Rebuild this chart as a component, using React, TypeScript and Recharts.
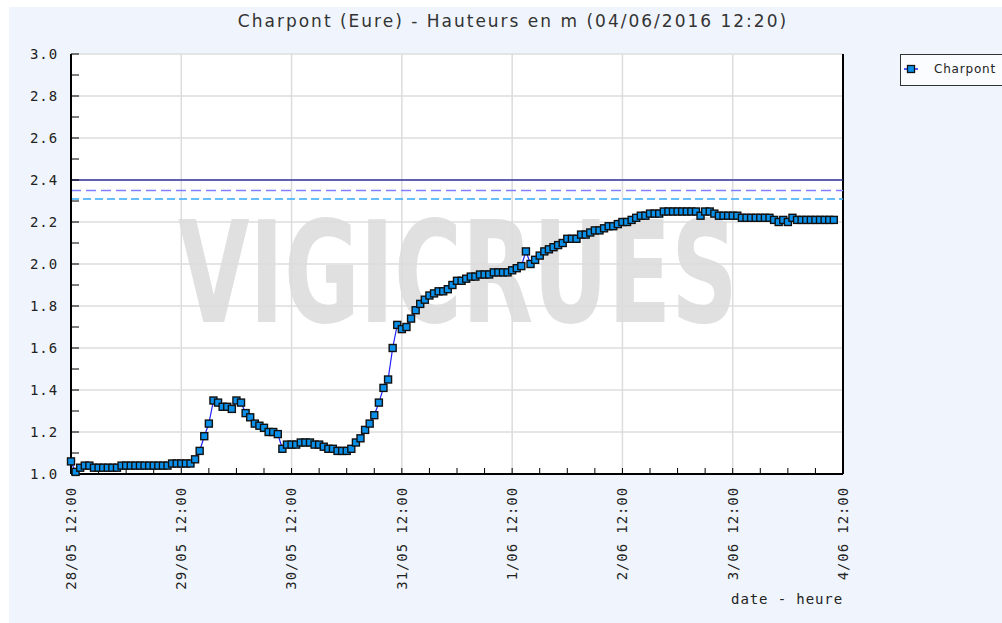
import { LineChart, Line, XAxis, YAxis, CartesianGrid, ReferenceLine } from "recharts";

// hourly water levels (m), from 28/05 12:00 onwards
const day1 = [1.06, 1.01, 1.03, 1.04, 1.04, 1.03, 1.03, 1.03, 1.03, 1.03, 1.03, 1.04, 1.04, 1.04, 1.04, 1.04, 1.04, 1.04, 1.04, 1.04, 1.04, 1.04, 1.05, 1.05];
const day2 = [1.05, 1.05, 1.05, 1.07, 1.11, 1.18, 1.24, 1.35, 1.34, 1.32, 1.32, 1.31, 1.35, 1.34, 1.29, 1.27, 1.24, 1.23, 1.22, 1.2, 1.2, 1.19, 1.12, 1.14];
const day3 = [1.14, 1.14, 1.15, 1.15, 1.15, 1.14, 1.14, 1.13, 1.12, 1.12, 1.11, 1.11, 1.11, 1.12, 1.15, 1.17, 1.21, 1.24, 1.28, 1.34, 1.41, 1.45, 1.6, 1.71];
const day4 = [1.69, 1.7, 1.74, 1.78, 1.81, 1.83, 1.85, 1.86, 1.87, 1.87, 1.88, 1.9, 1.92, 1.92, 1.93, 1.94, 1.94, 1.95, 1.95, 1.95, 1.96, 1.96, 1.96, 1.96];
const day5 = [1.97, 1.98, 1.99, 2.06, 2.0, 2.02, 2.04, 2.06, 2.07, 2.08, 2.09, 2.1, 2.12, 2.12, 2.12, 2.14, 2.14, 2.15, 2.16, 2.16, 2.17, 2.18, 2.18, 2.19];
const day6 = [2.2, 2.2, 2.21, 2.22, 2.23, 2.23, 2.24, 2.24, 2.24, 2.25, 2.25, 2.25, 2.25, 2.25, 2.25, 2.25, 2.25, 2.23, 2.25, 2.25, 2.24, 2.23, 2.23, 2.23];
const day7 = [2.23, 2.23, 2.22, 2.22, 2.22, 2.22, 2.22, 2.22, 2.22, 2.21, 2.2, 2.21, 2.2, 2.22, 2.21, 2.21, 2.21, 2.21, 2.21, 2.21, 2.21, 2.21, 2.21];

const dayLabels = ["28/05 12:00", "29/05 12:00", "30/05 12:00", "31/05 12:00", "1/06 12:00", "2/06 12:00", "3/06 12:00", "4/06 12:00"];
const xTicks = [0, 6, 12, 18, 24, 30, 36, 42, 48, 54, 60, 66, 72, 78, 84, 90, 96, 102, 108, 114, 120, 126, 132, 138, 144, 150, 156, 162, 168];
const dayTicks = [24, 48, 72, 96, 120, 144];
const yTicks = [1.0, 1.1, 1.2, 1.3, 1.4, 1.5, 1.6, 1.7, 1.8, 1.9, 2.0, 2.1, 2.2, 2.3, 2.4, 2.5, 2.6, 2.7, 2.8, 2.9, 3.0];
const yGrid = [1.2, 1.4, 1.6, 1.8, 2.0, 2.2, 2.4, 2.6, 2.8, 3.0];

// alert thresholds
const levelRed = 2.4;
const levelPurple = 2.35;
const levelBlue = 2.31;

const levels = [...day1, ...day2, ...day3, ...day4, ...day5, ...day6, ...day7];
const data = levels.map((v, h) => ({ h, v }));

const MONO = "'DejaVu Sans Mono', monospace";

function Square(props: any) {
  const { cx, cy } = props;
  if (cx == null || cy == null) return null;
  return <rect x={cx - 3.5} y={cy - 3.5} width={7} height={7} fill="#0a90e8" stroke="#111" strokeWidth={1.4} />;
}

function XTick(props: any) {
  const { x, y, payload } = props;
  if (payload.value % 24 !== 0) return null;
  return (
    <text
      transform={`translate(${x},${y}) rotate(-90)`}
      textAnchor="end"
      dy="0.35em"
      fontFamily={MONO}
      fontSize={14}
      letterSpacing={0.9}
      fill="#222"
    >
      {dayLabels[payload.value / 24]}
    </text>
  );
}

export default function App() {
  const sx = 0.66;
  return (
    <div style={{ position: "absolute", left: 9, top: 7, width: 993, height: 616, background: "#f0f5fd", overflow: "hidden" }}>
      <div style={{ position: "absolute", left: 0, top: 4, width: 1008, textAlign: "center", fontFamily: "'DejaVu Sans', sans-serif", fontSize: 17, letterSpacing: 2, color: "#333" }}>
        Charpont (Eure) - Hauteurs en m (04/06/2016 12:20)
      </div>
      {/* plot background + watermark */}
      <div style={{ position: "absolute", left: 62, top: 47, width: 772, height: 420, background: "#fff" }} />
      <svg style={{ position: "absolute", left: 0, top: 0 }} width={993} height={616}>
        <text transform={`scale(${sx},1)`} x={169 / sx} y={315} fontFamily="'DejaVu Sans', sans-serif" fontWeight="bold" fontSize={140} fill="#e0e0e0">
          VIGICRUES
        </text>
      </svg>
      <div style={{ position: "absolute", left: 0, top: 0 }}>
        <LineChart width={993} height={616} data={data} margin={{ top: 47, right: 159, bottom: 49, left: 0 }}>
          <CartesianGrid stroke="#dcdcdc" strokeWidth={1.5} horizontalValues={yGrid} verticalValues={dayTicks} />
          <XAxis
            dataKey="h"
            type="number"
            domain={[0, 168]}
            ticks={xTicks}
            interval={0}
            height={100}
            tickSize={-6}
            tickMargin={19}
            tick={<XTick />}
            axisLine={{ stroke: "#000", strokeWidth: 2 }}
            tickLine={{ stroke: "#000" }}
          />
          <YAxis
            type="number"
            domain={[1, 3]}
            ticks={yTicks}
            interval={0}
            width={62}
            tickSize={-8}
            tickMargin={21}
            tickFormatter={(v: number) => (Math.round(v * 10) % 2 === 0 ? v.toFixed(1) : "")}
            tick={{ fontFamily: MONO, fontSize: 14, letterSpacing: 0.9, fill: "#222" }}
            axisLine={{ stroke: "#000", strokeWidth: 2 }}
            tickLine={{ stroke: "#000" }}
          />
          <ReferenceLine x={168} stroke="#000" strokeWidth={2} />
          <ReferenceLine y={levelRed} stroke="#333399" strokeWidth={1.5} />
          <ReferenceLine y={levelPurple} stroke="#8080ff" strokeWidth={1.5} strokeDasharray="10 5" />
          <ReferenceLine y={levelBlue} stroke="#33aaff" strokeWidth={1.5} strokeDasharray="8 4" />
          <Line
            type="linear"
            dataKey="v"
            stroke="#2020ff"
            strokeWidth={1.2}
            dot={<Square />}
            activeDot={false}
            isAnimationActive={false}
          />
        </LineChart>
      </div>
      <div style={{ position: "absolute", left: 714, top: 584, width: 120, textAlign: "right", fontFamily: MONO, fontSize: 14, letterSpacing: 0.9, color: "#222" }}>
        date - heure
      </div>
      <div style={{ position: "absolute", left: 891, top: 47, width: 130, height: 30, border: "1px solid #333", background: "#fbfcff" }}>
        <svg style={{ position: "absolute", left: 2, top: 8 }} width={16} height={12}>
          <line x1={1} y1={6} x2={15} y2={6} stroke="#2020ff" strokeWidth={1.5} />
          <rect x={4.5} y={2.5} width={7} height={7} fill="#0a90e8" stroke="#111" strokeWidth={1.3} />
        </svg>
        <div style={{ position: "absolute", left: 33, top: 7, fontFamily: "'DejaVu Sans', sans-serif", fontSize: 12, letterSpacing: 0.8, color: "#222" }}>
          Charpont
        </div>
      </div>
    </div>
  );
}
